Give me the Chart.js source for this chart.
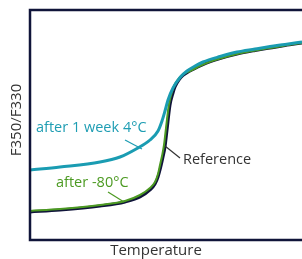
<!DOCTYPE html>
<html>
<head>
<meta charset="utf-8">
<script src="https://cdn.jsdelivr.net/npm/chart.js@4"></script>
<style>
  html, body { margin: 0; padding: 0; background: #fff; }
  canvas { display: block; }
</style>
</head>
<body>
<canvas id="chart" width="302" height="259"></canvas>
<script>
// melting curves, temperature (°C) vs F350/F330 ratio
const refTemp = [20, 27.5, 37.5, 43.75, 47.5, 50, 51.25, 52, 52.75, 53.25, 53.75, 54.25, 55, 55.75, 56.25, 57.25, 58.25, 60, 61.75, 63.25, 67.5, 71.75, 76.25, 80, 83.75, 88];
const refRatio = [0.856, 0.86, 0.868, 0.876, 0.886, 0.90, 0.912, 0.926, 0.948, 0.966, 0.986, 1.02, 1.07, 1.094, 1.106, 1.12, 1.129, 1.138, 1.145, 1.151, 1.163, 1.172, 1.179, 1.184, 1.189, 1.194];

const frozenTemp = [20, 27.5, 37.5, 43.75, 47.5, 50, 51.25, 52, 52.5, 53, 53.5, 54, 54.75, 55.5, 56, 57, 58, 60, 61.75, 63.25, 67.5, 71.75, 76.25, 80, 83.75, 88];
const frozenRatio = [0.858, 0.862, 0.87, 0.878, 0.89, 0.904, 0.916, 0.932, 0.95, 0.968, 0.99, 1.024, 1.072, 1.096, 1.108, 1.121, 1.13, 1.138, 1.145, 1.151, 1.163, 1.172, 1.179, 1.184, 1.189, 1.194];

const weekTemp = [20, 27.5, 37.5, 42.5, 46.75, 50, 52, 53, 53.75, 54.5, 55.75, 57.5, 59.25, 61.25, 63.25, 67.5, 71.75, 76.25, 80, 83.75, 88];
const weekRatio = [0.94, 0.946, 0.956, 0.966, 0.983, 1.0, 1.018, 1.038, 1.058, 1.08, 1.104, 1.125, 1.138, 1.148, 1.156, 1.167, 1.176, 1.182, 1.187, 1.191, 1.196];

// callout labels with their leader lines (data units)
const labels = [
  { text: "after 1 week 4°C", x: 21.5, y: 1.024, from: [43.75, 1.0], to: [48, 0.982], color: "#1e9db3" },
  { text: "Reference", x: 58.25, y: 0.96, from: [53.75, 0.988], to: [57.5, 0.964], color: "#333333" },
  { text: "after -80°C", x: 26.5, y: 0.914, from: [39.5, 0.896], to: [43.5, 0.876], color: "#4c9a22" }
];

const NAVY = "#10143a";

const toPoints = (xs, ys) => xs.map((x, i) => ({ x: x, y: ys[i] }));

// frame, axis titles and callouts
const decor = {
  id: "decor",
  afterDatasetsDraw(chart) {
    const { ctx, chartArea: a, scales: { x, y } } = chart;
    ctx.save();

    ctx.strokeStyle = NAVY;
    ctx.lineWidth = 2.5;
    ctx.beginPath();
    ctx.moveTo(a.right + 2, a.top);
    ctx.lineTo(a.left, a.top);
    ctx.lineTo(a.left, a.bottom);
    ctx.lineTo(a.right + 2, a.bottom);
    ctx.stroke();

    ctx.font = "14.5px 'Open Sans', sans-serif";
    ctx.textBaseline = "middle";
    labels.forEach(l => {
      ctx.strokeStyle = l.color;
      ctx.lineWidth = 1.2;
      ctx.beginPath();
      ctx.moveTo(x.getPixelForValue(l.from[0]), y.getPixelForValue(l.from[1]));
      ctx.lineTo(x.getPixelForValue(l.to[0]), y.getPixelForValue(l.to[1]));
      ctx.stroke();
      ctx.fillStyle = l.color;
      ctx.textAlign = "left";
      ctx.fillText(l.text, x.getPixelForValue(l.x), y.getPixelForValue(l.y));
    });

    ctx.font = "15px 'Open Sans', sans-serif";
    ctx.fillStyle = "#333333";
    ctx.textAlign = "center";
    ctx.fillText("Temperature", 156, 251);

    ctx.translate(17, 120);
    ctx.rotate(-Math.PI / 2);
    ctx.fillText("F350/F330", 0, 0);
    ctx.restore();
  }
};

new Chart(document.getElementById("chart"), {
  type: "line",
  data: {
    datasets: [
      {
        label: "Reference",
        data: toPoints(refTemp, refRatio),
        borderColor: NAVY,
        borderWidth: 3,
        order: 3
      },
      {
        label: "after -80°C",
        data: toPoints(frozenTemp, frozenRatio),
        borderColor: "#4c9a22",
        borderWidth: 2,
        order: 2
      },
      {
        label: "after 1 week 4°C",
        data: toPoints(weekTemp, weekRatio),
        borderColor: "#1a9cb2",
        borderWidth: 3,
        order: 1
      }
    ]
  },
  options: {
    responsive: false,
    animation: false,
    layout: { padding: { left: 30, top: 10, right: 0, bottom: 19 } },
    elements: {
      point: { radius: 0 },
      line: { cubicInterpolationMode: "monotone", fill: false }
    },
    scales: {
      x: { type: "linear", min: 20, max: 88, display: false },
      y: { min: 0.8, max: 1.26, display: false }
    },
    plugins: {
      legend: { display: false },
      tooltip: { enabled: false }
    }
  },
  plugins: [decor]
});
</script>
</body>
</html>
